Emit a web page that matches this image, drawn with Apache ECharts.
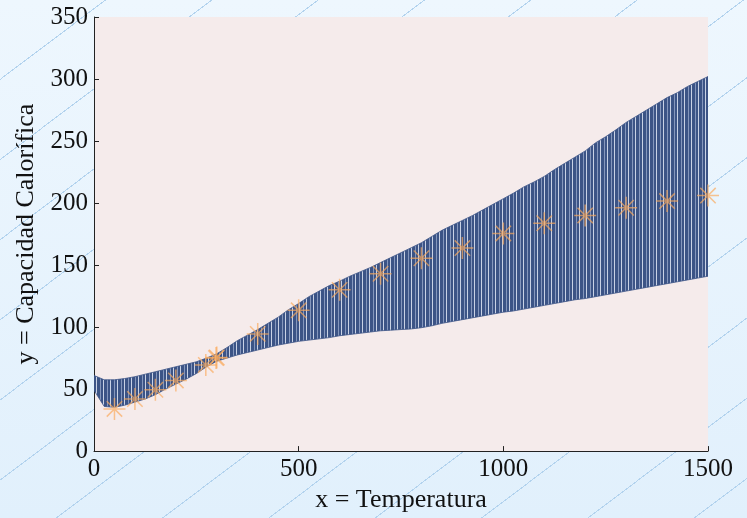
<!DOCTYPE html>
<html>
<head>
<meta charset="utf-8">
<script src="https://cdn.jsdelivr.net/npm/echarts@6/dist/echarts.min.js"></script>
<style>
  html, body { margin: 0; padding: 0; }
  body {
    width: 747px; height: 518px; overflow: hidden;
    background:
      repeating-linear-gradient(143deg, rgba(0,0,0,0) 0 63px, #b3d3ee 63px 64px),
      linear-gradient(180deg, #eef7fe 0%, #e1f0fc 100%);
  }
  #chart { width: 747px; height: 518px; }
</style>
</head>
<body>
<div id="chart"></div>
<script>
// temperature grid used for the envelope of the oscillating curve
var bandT = [0, 25, 50, 75, 100, 125, 150, 175, 200, 225, 250, 275, 300, 325, 350, 375, 400, 425, 450, 475,
  500, 525, 550, 575, 600, 625, 650, 675, 700, 725, 750, 775, 800, 825, 850, 875, 900, 925, 950, 975,
  1000, 1025, 1050, 1075, 1100, 1125, 1150, 1175, 1200, 1225, 1250, 1275, 1300, 1325, 1350, 1375, 1400,
  1425, 1450, 1475, 1500];
// upper / lower edge of the blue band
var bandUpper = [61, 57.5, 57.5, 58.5, 60, 62, 64, 66, 68, 70, 72, 75, 78.5, 83.5, 89, 93.5, 98, 103, 108, 114,
  119, 124.5, 129, 133.5, 137, 141, 144.5, 148, 152, 156, 160, 164, 168, 173, 178, 182, 186, 190, 194.5, 199,
  203.5, 208, 213, 217, 221.5, 227, 232, 237, 242, 248.5, 253.5, 259, 265, 270, 275, 280, 285,
  289, 294, 298, 302];
var bandLower = [49, 36, 35.3, 37, 39.5, 42, 45.5, 50, 54, 58, 62.5, 68, 72.5, 75, 77.5, 79.5, 81.5, 83.5, 85.5, 87,
  88.5, 89.5, 90.5, 91.5, 93, 94, 95, 96, 97, 97.5, 98, 98.5, 99.5, 101, 103, 104.5, 106, 107.5, 109, 110.5,
  112, 113, 114.5, 116, 117.5, 119, 120.5, 122, 123, 124.5, 126, 127.5, 129, 130.5, 132, 133.5, 135,
  136.5, 138, 139.5, 141];

// measured points (asterisks)
var tempPts = [50, 100, 150, 200, 273.15, 298.15, 300, 400, 500, 600, 700, 800, 900, 1000, 1100, 1200, 1300, 1400, 1500];
var cpPts = [34, 42, 49.5, 57, 69.5, 75, 75.5, 94.5, 113.5, 130, 143, 155.5, 163.7, 175.5, 183.7, 190, 196.2, 201.6, 206];

var yTicks = { min: 0, max: 350, interval: 50 };
var xTicks = { min: 0, max: 1500, interval: 500 };

// stripe texture for the band
function stripePattern() {
  var cols = ['#3c5486', '#3c5486', '#8597bd', '#3c5486', '#3c5486', '#c9d2e5', '#3c5486'];
  var c = document.createElement('canvas');
  c.width = cols.length;
  c.height = 4;
  var g = c.getContext('2d');
  for (var i = 0; i < cols.length; i++) {
    g.fillStyle = cols[i];
    g.fillRect(i, 0, 1, 4);
  }
  return c;
}
var bandFill = { image: stripePattern(), repeat: 'repeat' };

var bandData = [], starData = [];
for (var i = 0; i < bandT.length; i++) {
  bandData.push([bandT[i], bandLower[i], bandUpper[i]]);
}
for (var k = 0; k < tempPts.length; k++) {
  starData.push([tempPts[k], cpPts[k]]);
}

// whole band as one polygon: upper edge forward, lower edge back
function renderBand(params, api) {
  if (params.dataIndex !== 0) return;
  var pts = [];
  for (var i = 0; i < bandData.length; i++) {
    pts.push(api.coord([bandData[i][0], bandData[i][2]]));
  }
  for (var j = bandData.length - 1; j >= 0; j--) {
    pts.push(api.coord([bandData[j][0], bandData[j][1]]));
  }
  return {
    type: 'polygon',
    shape: { points: pts },
    style: { fill: bandFill, stroke: '#3c5486', lineWidth: 0.8 }
  };
}

var font = '"Liberation Serif", "DejaVu Serif", serif';
var axisCommon = {
  axisLine: { show: true, lineStyle: { color: '#222', width: 1 } },
  axisTick: { show: true, inside: true, length: 5, lineStyle: { color: '#222' } },
  splitLine: { show: false },
  nameTextStyle: { color: '#111', fontSize: 26, fontFamily: font }
};

var option = {
  backgroundColor: 'transparent',
  animation: false,
  grid: {
    show: true,
    left: 94, right: 39, top: 17, bottom: 63,
    backgroundColor: '#f5ebeb',
    borderWidth: 0
  },
  xAxis: Object.assign({}, axisCommon, {
    type: 'value',
    min: xTicks.min, max: xTicks.max, interval: xTicks.interval,
    name: 'x = Temperatura',
    nameLocation: 'middle',
    nameGap: 31,
    axisLabel: { color: '#111', fontSize: 25, fontFamily: font, margin: 6, formatter: function (v) { return String(v); } }
  }),
  yAxis: Object.assign({}, axisCommon, {
    type: 'value',
    min: yTicks.min, max: yTicks.max, interval: yTicks.interval,
    name: 'y = Capacidad Calorífica',
    nameLocation: 'middle',
    nameRotate: 90,
    nameGap: 52,
    axisLabel: { color: '#111', fontSize: 25, fontFamily: font, margin: 6 }
  }),
  series: [
    {
      type: 'custom',
      renderItem: renderBand,
      data: bandData,
      encode: { x: 0, y: [1, 2] },
      clip: true,
      z: 2
    },
    {
      type: 'scatter',
      data: starData,
      symbol: 'path://M0,-10L0,10M-10,0L10,0M-7,-7L7,7M-7,7L7,-7',
      symbolSize: 22,
      itemStyle: { color: 'rgba(0,0,0,0)', borderColor: 'rgba(250,170,92,0.85)', borderWidth: 1.5 },
      z: 5
    }
  ]
};

var chart = echarts.init(document.getElementById('chart'));
chart.setOption(option);
</script>
</body>
</html>
